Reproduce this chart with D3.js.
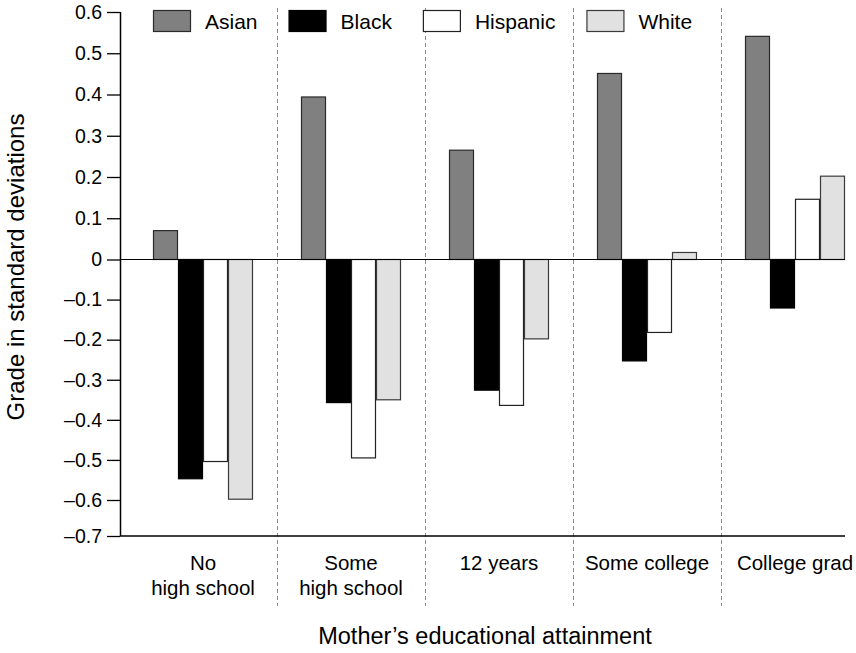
<!DOCTYPE html>
<html>
<head>
<meta charset="utf-8">
<script src="https://cdn.jsdelivr.net/npm/d3@7/dist/d3.min.js"></script>
<style>
  html, body { margin: 0; padding: 0; background: #fff; }
  svg { display: block; font-family: "Liberation Sans", Arial, Helvetica, sans-serif; }
</style>
</head>
<body>
<svg id="chart" width="856" height="653"></svg>
<script>
// Mother's educational attainment groups (label lines)
const categories = [
  ["No", "high school"],
  ["Some", "high school"],
  ["12 years"],
  ["Some college"],
  ["College grad"]
];
const seriesNames = ["Asian", "Black", "Hispanic", "White"];

// Grade in standard deviations, by group
const asian    = [0.070, 0.394, 0.265, 0.451, 0.541];
const black    = [-0.547, -0.357, -0.326, -0.253, -0.121];
const hispanic = [-0.504, -0.495, -0.364, -0.182, 0.146];
const white    = [-0.598, -0.350, -0.198, 0.017, 0.202];

const yTicks = [-0.7, -0.6, -0.5, -0.4, -0.3, -0.2, -0.1, 0, 0.1, 0.2, 0.3, 0.4, 0.5, 0.6];

const seriesValues = [asian, black, hispanic, white];
const fills = ["#808080", "#000000", "#ffffff", "#e1e1e1"];
const strokes = ["#2a2a2a", "#000000", "#222222", "#3a3a3a"];

const svg = d3.select("#chart");
const keys = categories.map(c => c.join(" "));

const left = 120, right = 845, bottom = 536;

const x0 = d3.scaleBand().domain(keys).range([129, 869]);
const x1 = d3.scaleBand().domain(seriesNames).range([24, 124]);
const y = d3.scaleLinear()
  .domain([-0.7, -0.6, 0, 0.6])
  .range([536, 500, 259.5, 12]);

// Dashed separators between groups
svg.append("g")
  .selectAll("line")
  .data(keys.slice(1))
  .join("line")
  .attr("x1", d => Math.round(x0(d)) + 0.5)
  .attr("x2", d => Math.round(x0(d)) + 0.5)
  .attr("y1", 8)
  .attr("y2", 606)
  .attr("stroke", "#8a8a8a")
  .attr("stroke-width", 1)
  .attr("stroke-dasharray", "4,3");

// Bars
const rows = [];
keys.forEach((k, i) => {
  seriesNames.forEach((s, j) => rows.push({ k, s, j, v: seriesValues[j][i] }));
});

svg.append("g")
  .selectAll("rect")
  .data(rows)
  .join("rect")
  .attr("x", d => x0(d.k) + x1(d.s) + 0.5)
  .attr("width", x1.bandwidth() - 1)
  .attr("y", d => y(Math.max(0, d.v)))
  .attr("height", d => Math.abs(y(d.v) - y(0)))
  .attr("fill", d => fills[d.j])
  .attr("stroke", d => strokes[d.j])
  .attr("stroke-width", 1.2);

// Zero line
svg.append("line")
  .attr("x1", left).attr("x2", right)
  .attr("y1", y(0)).attr("y2", y(0))
  .attr("stroke", "#000").attr("stroke-width", 1.2);

// Y axis
const fmt = d => d === 0 ? "0" : d3.format(".1f")(d).replace("-", "\u2013").replace("\u2212", "\u2013");
const yAxis = svg.append("g")
  .attr("transform", `translate(${left},0)`)
  .call(d3.axisLeft(y).tickValues(yTicks).tickFormat(fmt).tickSize(13).tickPadding(5));
yAxis.select(".domain").attr("stroke", "#000").attr("stroke-width", 1.5)
  .attr("d", `M0.5,${y(0.6)}V${bottom}`);
yAxis.selectAll(".tick line").attr("stroke", "#000").attr("stroke-width", 1.3);
yAxis.selectAll(".tick text")
  .attr("font-size", 19.5)
  .attr("fill", "#000")
  .attr("font-family", "Liberation Sans, Arial, sans-serif");

// Bottom axis line
svg.append("line")
  .attr("x1", left).attr("x2", right)
  .attr("y1", bottom).attr("y2", bottom)
  .attr("stroke", "#000").attr("stroke-width", 1.5);

// Category labels
const catG = svg.append("g")
  .selectAll("text")
  .data(categories)
  .join("text")
  .attr("text-anchor", "middle")
  .attr("font-size", 20.5)
  .attr("fill", "#000")
  .attr("transform", (d, i) => `translate(${x0(keys[i]) + x0.bandwidth() / 2},570)`);
catG.selectAll("tspan")
  .data(d => d)
  .join("tspan")
  .attr("x", 0)
  .attr("y", (d, i) => i * 25)
  .text(d => d);

// Axis titles
svg.append("text")
  .attr("x", 485).attr("y", 644)
  .attr("text-anchor", "middle")
  .attr("font-size", 23.5)
  .attr("fill", "#000")
  .text("Mother\u2019s educational attainment");

svg.append("text")
  .attr("transform", "translate(24,267) rotate(-90)")
  .attr("text-anchor", "middle")
  .attr("font-size", 24)
  .attr("fill", "#000")
  .text("Grade in standard deviations");

// Legend
const legend = svg.append("g");
let lx = 153;
seriesNames.forEach((s, j) => {
  legend.append("rect")
    .attr("x", lx + 0.5).attr("y", 10.5)
    .attr("width", 37).attr("height", 21)
    .attr("fill", fills[j]).attr("stroke", strokes[j]).attr("stroke-width", 1.2);
  const t = legend.append("text")
    .attr("x", lx + 52).attr("y", 29)
    .attr("font-size", 21)
    .attr("fill", "#000")
    .text(s);
  lx = lx + 52 + t.node().getComputedTextLength() + 31;
});
</script>
</body>
</html>
